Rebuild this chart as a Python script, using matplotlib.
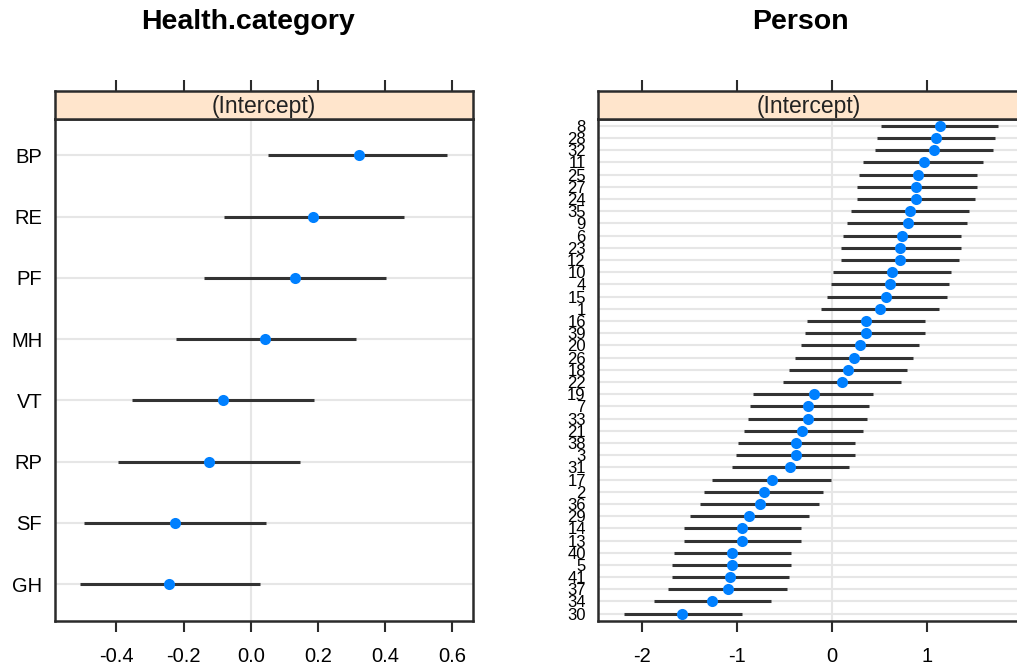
import numpy as np
import matplotlib
matplotlib.use('Agg')
import matplotlib.pyplot as plt

plt.rcParams['font.family'] = ['Liberation Sans', 'DejaVu Sans']

# Health category random intercepts (top to bottom)
health_cats = ['BP', 'RE', 'PF', 'MH', 'VT', 'RP', 'SF', 'GH']
health_est = [0.323, 0.185, 0.131, 0.043, -0.083, -0.124, -0.227, -0.244]
health_lo = [0.052, -0.080, -0.139, -0.223, -0.354, -0.396, -0.497, -0.509]
health_hi = [0.585, 0.457, 0.403, 0.314, 0.189, 0.147, 0.046, 0.028]

# Person random intercepts (top to bottom)
person_ids = ['8', '28', '32', '11', '25', '27', '24', '35', '9', '6', '23', '12',
              '10', '4', '15', '1', '16', '39', '20', '26', '18', '22', '19', '7',
              '33', '21', '38', '3', '31', '17', '2', '36', '29', '14', '13', '40',
              '5', '41', '37', '34', '30']
person_est = [1.133, 1.091, 1.070, 0.965, 0.902, 0.881, 0.881, 0.818, 0.797, 0.735,
              0.713, 0.713, 0.630, 0.609, 0.567, 0.504, 0.357, 0.357, 0.294, 0.231,
              0.168, 0.105, -0.189, -0.252, -0.252, -0.315, -0.378, -0.378, -0.441,
              -0.630, -0.714, -0.756, -0.875, -0.944, -0.944, -1.049, -1.049, -1.070,
              -1.091, -1.259, -1.574]
person_lo = [0.517, 0.475, 0.454, 0.328, 0.286, 0.265, 0.265, 0.203, 0.160, 0.118,
             0.097, 0.097, 0.013, -0.007, -0.049, -0.112, -0.259, -0.280, -0.322, -0.385,
             -0.448, -0.511, -0.826, -0.868, -0.889, -0.931, -0.994, -1.015, -1.057,
             -1.267, -1.351, -1.393, -1.498, -1.561, -1.561, -1.666, -1.687, -1.687,
             -1.729, -1.876, -2.190]
person_hi = [1.748, 1.713, 1.693, 1.588, 1.525, 1.525, 1.504, 1.441, 1.420, 1.357,
             1.357, 1.336, 1.252, 1.231, 1.210, 1.126, 0.979, 0.979, 0.916, 0.853,
             0.790, 0.727, 0.433, 0.391, 0.370, 0.328, 0.244, 0.244, 0.181,
             -0.007, -0.091, -0.133, -0.238, -0.322, -0.322, -0.427, -0.427, -0.448,
             -0.469, -0.637, -0.952]

health_ticks = [-0.4, -0.2, 0.0, 0.2, 0.4, 0.6]
person_ticks = [-2, -1, 0, 1]

W, H = 1017, 669
fig = plt.figure(figsize=(W / 100, H / 100), dpi=100)

FRAME = '#2b2b2b'
LINE = '#333333'
DOT = '#0080ff'
GRID = '#e6e6e6'
STRIP = '#ffe5cc'


def px_box(x0, x1, y0, y1):
    # pixel box (top-left origin) -> figure fraction rect
    return [x0 / W, 1 - y1 / H, (x1 - x0) / W, (y1 - y0) / H]


def panel(x0, x1, labels, est, lo, hi, xlim, ticks, ticklabels, ylab_size, title, title_x):
    n = len(labels)
    y = np.arange(n, 0, -1)

    ax = fig.add_axes(px_box(x0, x1, 118.5, 621))
    strip = fig.add_axes(px_box(x0, x1, 91, 118.5), sharex=ax)

    for yy in y:
        ax.axhline(yy, color=GRID, lw=1.5, zorder=0)
    ax.axvline(0, color=GRID, lw=1.5, zorder=0)
    ax.hlines(y, lo, hi, color=LINE, lw=2.2, zorder=2)
    ax.plot(est, y, 'o', color=DOT, ms=8, mec='none', zorder=3)

    ax.set_xlim(*xlim)
    ax.set_ylim(0.4, n + 0.6)
    ax.set_yticks(y)
    ax.set_yticklabels(labels, fontsize=ylab_size)
    ax.tick_params(axis='y', length=0, pad=9)
    ax.set_xticks(ticks)
    ax.set_xticklabels(ticklabels, fontsize=14.5)
    ax.tick_params(axis='x', direction='out', length=8, width=1.5, color=FRAME, pad=11)
    for s in ax.spines.values():
        s.set_color(FRAME)
        s.set_linewidth(1.8)

    strip.set_facecolor(STRIP)
    strip.set_yticks([])
    strip.tick_params(axis='x', which='both', bottom=False, labelbottom=False,
                      top=True, labeltop=False, direction='out', length=8,
                      width=1.5, color=FRAME)
    for s in strip.spines.values():
        s.set_color(FRAME)
        s.set_linewidth(1.8)
    strip.text(0.5, 0.45, '(Intercept)', transform=strip.transAxes,
               ha='center', va='center', fontsize=16.5, color='#222222')

    fig.text(title_x / W, 1 - 22 / H, title, ha='center', va='center',
             fontsize=20.5, fontweight='bold')
    return ax


panel(54.7, 473.3, health_cats, health_est, health_lo, health_hi,
      (-0.584, 0.663), health_ticks, ['%.1f' % t for t in health_ticks], 14.5,
      'Health.category', 248)

panel(598.3, 1020, person_ids, person_est, person_lo, person_hi,
      (-2.46, 1.98), person_ticks, [str(t) for t in person_ticks], 12,
      'Person', 800)

fig.savefig('out.png', dpi=100)
